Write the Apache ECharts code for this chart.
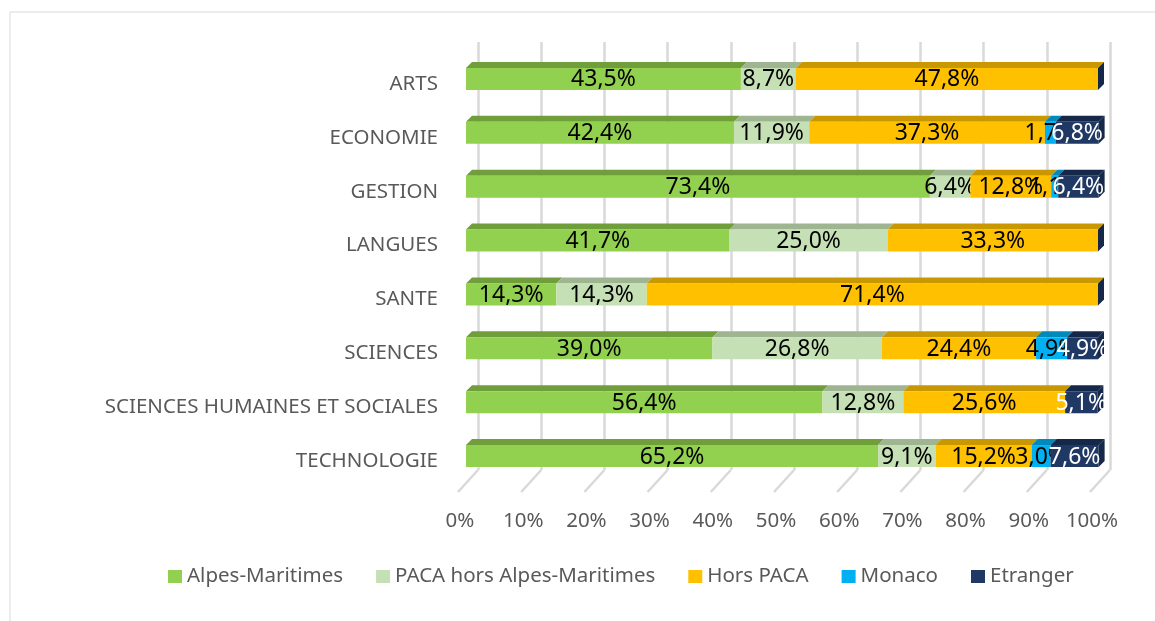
<!DOCTYPE html>
<html>
<head>
<meta charset="utf-8">
<script src="https://cdn.jsdelivr.net/npm/echarts@6/dist/echarts.min.js"></script>
<style>
html, body { margin: 0; padding: 0; background: #fff; }
#echart { width: 1155px; height: 621px; }
</style>
</head>
<body>
<div id="echart"></div>
<script>
var categories = ['ARTS', 'ECONOMIE', 'GESTION', 'LANGUES', 'SANTE', 'SCIENCES', 'SCIENCES HUMAINES ET SOCIALES', 'TECHNOLOGIE'];
var alpesMaritimes = [43.5, 42.4, 73.4, 41.7, 14.3, 39.0, 56.4, 65.2];
var pacaHorsAM = [8.7, 11.9, 6.4, 25.0, 14.3, 26.8, 12.8, 9.1];
var horsPaca = [47.8, 37.3, 12.8, 33.3, 71.4, 24.4, 25.6, 15.2];
var monaco = [0, 1.7, 1.1, 0, 0, 4.9, 0, 3.0];
var etranger = [0, 6.8, 6.4, 0, 0, 4.9, 5.1, 7.6];
var xTicks = [0, 10, 20, 30, 40, 50, 60, 70, 80, 90, 100];

var seriesDefs = [
    { name: 'Alpes-Maritimes', values: alpesMaritimes, color: '#92d050', top: '#6f9e3a', text: '#000' },
    { name: 'PACA hors Alpes-Maritimes', values: pacaHorsAM, color: '#c5e0b4', top: '#9fb592', text: '#000' },
    { name: 'Hors PACA', values: horsPaca, color: '#ffc000', top: '#c99700', text: '#000' },
    { name: 'Monaco', values: monaco, color: '#00b0f0', top: '#0089bb', text: '#000' },
    { name: 'Etranger', values: etranger, color: '#203864', top: '#16284a', text: '#fff' }
];

var myChart = echarts.init(document.getElementById('echart'));

// which series ends each row (gets the side face)
var lastIdx = categories.map(function (c, i) {
    var last = 0;
    seriesDefs.forEach(function (s, k) { if (s.values[i] > 0) last = k; });
    return last;
});

function fmt(v) {
    return v.toFixed(1).replace('.', ',') + '%';
}

function makeSeries(def, k) {
    var data = categories.map(function (c, i) {
        var start = 0;
        for (var j = 0; j < k; j++) start += seriesDefs[j].values[i];
        return [i, start, start + def.values[i], def.values[i]];
    });
    return {
        name: def.name,
        type: 'custom',
        xAxisIndex: 0,
        yAxisIndex: 0,
        itemStyle: { color: def.color },
        data: data,
        z: 10 + k,
        renderItem: function (params, api) {
            var cat = api.value(0), v = api.value(3);
            if (v <= 0 && lastIdx[cat] !== k) return;
            var p0 = api.coord([api.value(1), cat]);
            var p1 = api.coord([api.value(2), cat]);
            var h = 22, d = 6;
            var yTop = p0[1] - 5 - h / 2;
            var x0 = p0[0], x1 = p1[0];
            var children = [];
            if (v > 0) {
                children.push({
                    type: 'polygon',
                    shape: { points: [[x0, yTop], [x0 + d, yTop - d], [x1 + d, yTop - d], [x1, yTop]] },
                    style: { fill: def.top }
                });
                children.push({
                    type: 'rect',
                    shape: { x: x0, y: yTop, width: x1 - x0, height: h },
                    style: { fill: def.color }
                });
            }
            if (lastIdx[cat] === k) {
                children.push({
                    type: 'polygon',
                    shape: { points: [[x1, yTop], [x1 + d, yTop - d], [x1 + d, yTop + h - d], [x1, yTop + h]] },
                    style: { fill: '#16284a' }
                });
            }
            if (v > 0) {
                children.push({
                    type: 'text',
                    z2: 20,
                    style: {
                        text: fmt(v),
                        x: (x0 + x1) / 2,
                        y: yTop + h / 2 + 1,
                        align: 'center',
                        verticalAlign: 'middle',
                        fill: def.text,
                        font: '23px "Noto Sans"'
                    }
                });
            }
            return { type: 'group', children: children };
        }
    };
}

var series = seriesDefs.map(makeSeries);

// floor diagonals of the 3D back wall
series.push({
    type: 'custom',
    xAxisIndex: 1,
    yAxisIndex: 1,
    silent: true,
    z: 1,
    data: xTicks.map(function (t) { return [t]; }),
    renderItem: function (params, api) {
        var p = api.coord([api.value(0), 0]);
        var yb = params.coordSys.y + params.coordSys.height;
        return {
            type: 'line',
            shape: { x1: p[0], y1: yb, x2: p[0] - 20, y2: yb + 22 },
            style: { stroke: '#d9d9d9', lineWidth: 2.5 }
        };
    }
});

option = {
    animation: false,
    textStyle: { fontFamily: 'Noto Sans' },
    graphic: [
        {
            type: 'rect',
            shape: { x: 10, y: 12, width: 1170, height: 640 },
            style: { fill: 'none', stroke: '#d9d9d9', lineWidth: 1 },
            silent: true
        }
    ],
    legend: {
        top: 561,
        left: 163,
        icon: 'rect',
        itemWidth: 14,
        itemHeight: 13,
        itemGap: 33,
        textStyle: { fontSize: 20.5, color: '#595959' },
        data: seriesDefs.map(function (s) { return s.name; })
    },
    grid: [
        { left: 466, right: 57, top: 57, bottom: 133 },
        { left: 478, right: 45, top: 42, bottom: 151 }
    ],
    xAxis: [
        {
            type: 'value',
            gridIndex: 0,
            min: 0,
            max: 100,
            interval: 10,
            axisLine: { show: false },
            axisTick: { show: false },
            splitLine: { show: false },
            axisLabel: {
                formatter: '{value}%',
                fontSize: 20.5,
                color: '#595959',
                margin: 23,
                padding: [0, 12, 0, 0]
            }
        },
        {
            type: 'value',
            gridIndex: 1,
            min: 0,
            max: 100,
            interval: 10,
            axisLine: { show: false },
            axisTick: { show: false },
            axisLabel: { show: false },
            splitLine: { show: true, lineStyle: { color: '#d9d9d9', width: 2.5 } }
        }
    ],
    yAxis: [
        {
            type: 'category',
            gridIndex: 0,
            inverse: true,
            data: categories,
            axisLine: { show: false },
            axisTick: { show: false },
            axisLabel: { fontSize: 20.5, color: '#595959', margin: 28 }
        },
        {
            type: 'category',
            gridIndex: 1,
            data: categories,
            show: false
        }
    ],
    series: series
};
myChart.setOption(option);
</script>
</body>
</html>
